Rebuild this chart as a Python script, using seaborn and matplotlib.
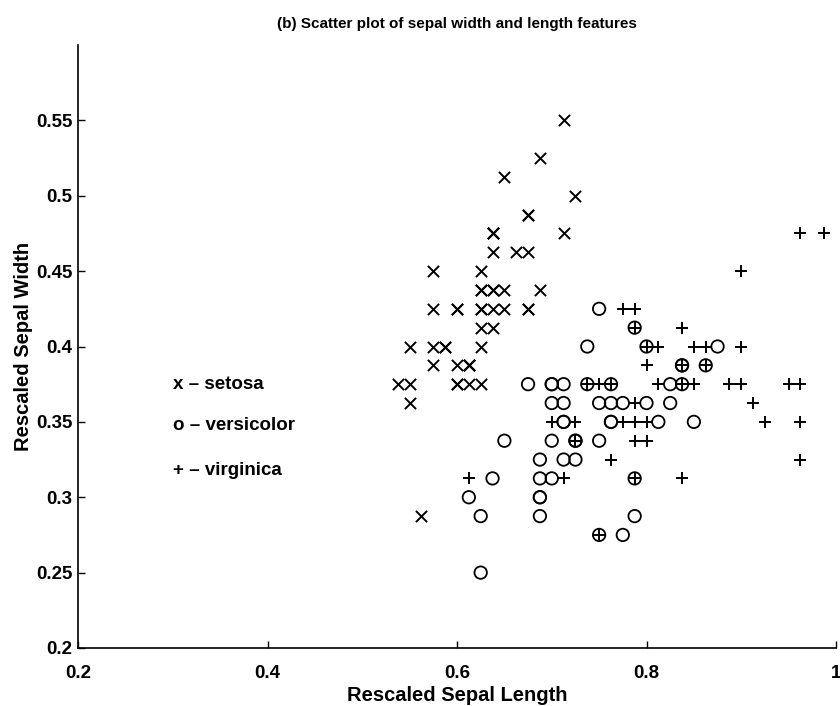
import matplotlib
matplotlib.use("Agg")
import matplotlib.pyplot as plt
import seaborn as sns
import pandas as pd

# Rescaled iris features (sepal length, sepal width)
setosa_x = [0.6375, 0.6125, 0.5875, 0.575, 0.625, 0.675, 0.575, 0.625, 0.55, 0.6125,
            0.675, 0.6, 0.6, 0.5375, 0.725, 0.7125, 0.675, 0.6375, 0.7125, 0.6375,
            0.675, 0.6375, 0.575, 0.6375, 0.6, 0.625, 0.625, 0.65, 0.65, 0.5875,
            0.6, 0.675, 0.65, 0.6875, 0.6125, 0.625, 0.6875, 0.6125, 0.55, 0.6375,
            0.625, 0.5625, 0.55, 0.625, 0.6375, 0.6, 0.6375, 0.575, 0.6625, 0.625]
setosa_y = [0.4375, 0.375, 0.4, 0.3875, 0.45, 0.4875, 0.425, 0.425, 0.3625, 0.3875,
            0.4625, 0.425, 0.375, 0.375, 0.5, 0.55, 0.4875, 0.4375, 0.475, 0.475,
            0.425, 0.4625, 0.45, 0.4125, 0.425, 0.375, 0.425, 0.4375, 0.425, 0.4,
            0.3875, 0.425, 0.5125, 0.525, 0.3875, 0.4, 0.4375, 0.3875, 0.375, 0.425,
            0.4375, 0.2875, 0.4, 0.4375, 0.475, 0.375, 0.475, 0.4, 0.4625, 0.4125]

versicolor_x = [0.875, 0.8, 0.8625, 0.6875, 0.8125, 0.7125, 0.7875, 0.6125, 0.825, 0.65,
                0.625, 0.7375, 0.75, 0.7625, 0.7, 0.8375, 0.7, 0.725, 0.775, 0.7,
                0.7375, 0.7625, 0.7875, 0.7625, 0.8, 0.825, 0.85, 0.8375, 0.75, 0.7125,
                0.6875, 0.6875, 0.725, 0.75, 0.675, 0.75, 0.8375, 0.7875, 0.7, 0.6875,
                0.6875, 0.7625, 0.725, 0.625, 0.7, 0.7125, 0.7125, 0.775, 0.6375, 0.7125]
versicolor_y = [0.4, 0.4, 0.3875, 0.2875, 0.35, 0.35, 0.4125, 0.3, 0.3625, 0.3375,
                0.25, 0.375, 0.275, 0.3625, 0.3625, 0.3875, 0.375, 0.3375, 0.275, 0.3125,
                0.4, 0.35, 0.3125, 0.35, 0.3625, 0.375, 0.35, 0.375, 0.3625, 0.325,
                0.3, 0.3, 0.3375, 0.3375, 0.375, 0.425, 0.3875, 0.2875, 0.375, 0.3125,
                0.325, 0.375, 0.325, 0.2875, 0.3375, 0.375, 0.3625, 0.3625, 0.3125, 0.35]

virginica_x = [0.7875, 0.725, 0.8875, 0.7875, 0.8125, 0.95, 0.6125, 0.9125, 0.8375, 0.9,
               0.8125, 0.8, 0.85, 0.7125, 0.725, 0.8, 0.8125, 0.9625, 0.9625, 0.75,
               0.8625, 0.7, 0.9625, 0.7875, 0.8375, 0.9, 0.775, 0.7625, 0.8, 0.9,
               0.925, 0.9875, 0.8, 0.7875, 0.7625, 0.9625, 0.7875, 0.8, 0.75, 0.8625,
               0.8375, 0.8625, 0.725, 0.85, 0.8375, 0.8375, 0.7875, 0.8125, 0.775, 0.7375]
virginica_y = [0.4125, 0.3375, 0.375, 0.3625, 0.375, 0.375, 0.3125, 0.3625, 0.3125, 0.45,
               0.4, 0.3375, 0.375, 0.3125, 0.35, 0.4, 0.375, 0.475, 0.325, 0.275,
               0.4, 0.35, 0.35, 0.3375, 0.4125, 0.4, 0.35, 0.375, 0.35, 0.375,
               0.35, 0.475, 0.35, 0.35, 0.325, 0.375, 0.425, 0.3875, 0.375, 0.3875,
               0.3875, 0.3875, 0.3375, 0.4, 0.4125, 0.375, 0.3125, 0.375, 0.425, 0.375]

x_ticks = [0.2, 0.4, 0.6, 0.8, 1.0]
x_tick_labels = ["0.2", "0.4", "0.6", "0.8", "1"]
y_ticks = [0.2, 0.25, 0.3, 0.35, 0.4, 0.45, 0.5, 0.55]
y_tick_labels = ["0.2", "0.25", "0.3", "0.35", "0.4", "0.45", "0.5", "0.55"]
legend_labels = ["x \u2013 setosa", "o \u2013 versicolor", "+ \u2013 virginica"]
legend_y = [0.375, 0.3475, 0.318]

sns.set_theme(style="white")
plt.rcParams["font.family"] = ["Liberation Sans", "DejaVu Sans"]
plt.rcParams["text.color"] = "black"
plt.rcParams["axes.labelcolor"] = "black"

fig = plt.figure(figsize=(8.4, 7.06), dpi=100)
ax = fig.add_axes([78 / 840, 58 / 706, (836 - 78) / 840, (648 - 45) / 706])

df_s = pd.DataFrame({"x": setosa_x, "y": setosa_y})
df_v = pd.DataFrame({"x": versicolor_x, "y": versicolor_y})
df_g = pd.DataFrame({"x": virginica_x, "y": virginica_y})

sns.scatterplot(data=df_s, x="x", y="y", marker="x", color="black", s=65,
                linewidth=1.4, ax=ax, legend=False)
sns.scatterplot(data=df_v, x="x", y="y", marker="o", facecolor="none",
                edgecolor="black", s=80, linewidth=1.3, ax=ax, legend=False)
sns.scatterplot(data=df_g, x="x", y="y", marker="+", color="black", s=80,
                linewidth=1.4, ax=ax, legend=False)

ax.set_xlim(0.2, 1.0)
ax.set_ylim(0.2, 0.6)
ax.set_xticks(x_ticks)
ax.set_xticklabels(x_tick_labels)
ax.set_yticks(y_ticks)
ax.set_yticklabels(y_tick_labels)
ax.tick_params(direction="in", length=5, width=1, colors="black",
               labelsize=13.5, bottom=True, left=True)
ax.tick_params(axis="x", pad=12)
ax.tick_params(axis="y", pad=4)
for lab in ax.get_xticklabels() + ax.get_yticklabels():
    lab.set_fontweight("bold")

for side in ["top", "right"]:
    ax.spines[side].set_visible(False)
for side in ["left", "bottom"]:
    ax.spines[side].set_color("black")
    ax.spines[side].set_linewidth(1.2)

ax.set_xlabel("Rescaled Sepal Length", fontsize=14.5, fontweight="bold", labelpad=3)
ax.set_ylabel("Rescaled Sepal Width", fontsize=14.5, fontweight="bold", labelpad=2)
ax.set_title("(b) Scatter plot of sepal width and length features",
             fontsize=11, fontweight="bold", pad=12, color="black")

for lab, yv in zip(legend_labels, legend_y):
    ax.text(0.3, yv, lab, fontsize=13.5, fontweight="bold", ha="left", va="center")

fig.savefig("out.png", dpi=100, facecolor="white")
